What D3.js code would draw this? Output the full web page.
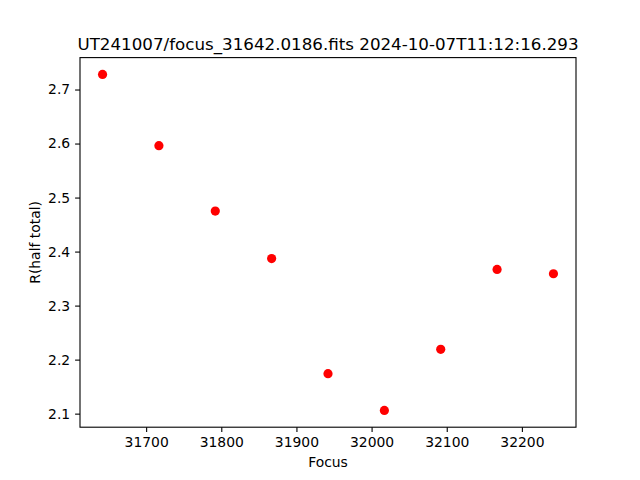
<!DOCTYPE html>
<html><head><meta charset="utf-8">
<script src="https://cdn.jsdelivr.net/npm/d3@7"></script>
<style>body{margin:0;background:#fff}svg{display:block;font-family:"DejaVu Sans",sans-serif}</style>
</head><body><svg id="c" width="640" height="480"></svg>
<script>
const focusValues = [31642, 31717, 31792, 31867, 31942, 32017, 32092, 32167, 32242];
const rHalfTotal = [2.728, 2.596, 2.475, 2.387, 2.174, 2.106, 2.219, 2.367, 2.359];
const xTicks = [31700, 31800, 31900, 32000, 32100, 32200];
const yTicks = [2.1, 2.2, 2.3, 2.4, 2.5, 2.6, 2.7];
const titleText = "UT241007/focus_31642.0186.fits 2024-10-07T11:12:16.293";

const svg = d3.select("#c");
const L = 80, R = 576, T = 57.6, B = 427.2;
const pad = (a) => { const [lo, hi] = d3.extent(a); const m = (hi - lo) * 0.05; return [lo - m, hi + m]; };
const x = d3.scaleLinear().domain(pad(focusValues)).range([L, R]);
const y = d3.scaleLinear().domain(pad(rHalfTotal)).range([B, T]);

const xa = svg.append("g").attr("transform", `translate(0,${B})`)
  .call(d3.axisBottom(x).tickValues(xTicks).tickFormat(d3.format("d")).tickSizeOuter(0).tickSize(4.9).tickPadding(4.9));
const ya = svg.append("g").attr("transform", `translate(${L},0)`)
  .call(d3.axisLeft(y).tickValues(yTicks).tickFormat(d3.format(".1f")).tickSizeOuter(0).tickSize(4.9).tickPadding(4.9));
[xa, ya].forEach(a => {
  a.select(".domain").remove();
  a.selectAll("text").attr("font-size", "13.9px").attr("fill", "#000").attr("font-family", "DejaVu Sans");
  a.selectAll("line").attr("stroke", "#000").attr("stroke-width", 1.1);
});

svg.append("rect").attr("x", L).attr("y", T).attr("width", R - L).attr("height", B - T)
  .attr("fill", "none").attr("stroke", "#000").attr("stroke-width", 1.1);

svg.append("g").selectAll("circle").data(focusValues).join("circle")
  .attr("cx", d => x(d)).attr("cy", (d, i) => y(rHalfTotal[i])).attr("r", 4.6).attr("fill", "#ff0000");

svg.append("text").attr("x", (L + R) / 2).attr("y", 50).attr("text-anchor", "middle")
  .attr("font-size", "16.7px").text(titleText);
svg.append("text").attr("x", (L + R) / 2).attr("y", 467).attr("text-anchor", "middle")
  .attr("font-size", "13.9px").text("Focus");
svg.append("text").attr("transform", `translate(39.5,${(T + B) / 2}) rotate(-90)`).attr("text-anchor", "middle")
  .attr("font-size", "13.9px").text("R(half total)");
</script></body></html>
